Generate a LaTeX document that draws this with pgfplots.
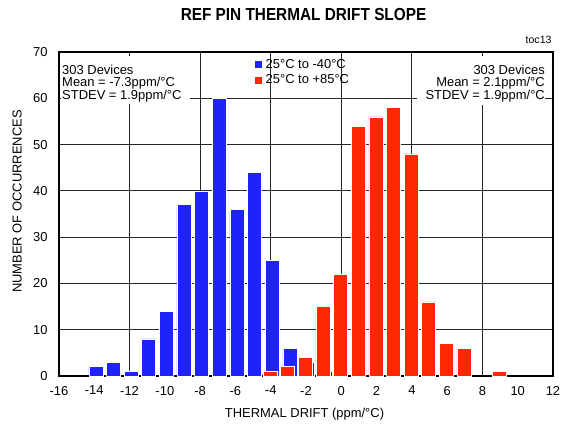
\documentclass[border=0pt]{standalone}
\usepackage{fontspec}
\setmainfont{Liberation Sans}
\newfontfamily\titlefont{Liberation Sans}[FakeStretch=0.88]
\usepackage{pgfplots}
\pgfplotsset{compat=1.18}
\definecolor{barblue}{RGB}{30,35,250}
\definecolor{barred}{RGB}{255,40,0}
\newcommand\fs{\fontsize{13}{13}\selectfont}

\begin{document}
\begin{tikzpicture}
\path[use as bounding box] (-59bp,-50bp) rectangle (502bp,376bp);
\begin{axis}[
  at={(0,0)}, anchor=south west,
  scale only axis, width=494bp, height=324bp,
  xmin=-16, xmax=12, ymin=0, ymax=70,
  xtick={-16,-14,...,12}, ytick={0,10,...,70},
  extra x ticks={-12,-8,-4,0,4,8}, extra x tick labels={},
  extra x tick style={grid=major},
  ymajorgrids,
  major grid style={black!85, line width=0.9bp},
  major tick length=0pt,
  axis line style={line width=1.8bp},
  tick label style={font=\fs},
  /pgf/number format/assume math mode=true,
  xticklabel style={yshift=-6.5bp},
  yticklabel style={xshift=-8bp},
  clip=false,
  legend style={draw=none, fill=none, at={(axis description cs:0.3967,0.9815)},
    anchor=north west, inner sep=0pt, font=\fs, row sep=1.5bp, column sep=2bp,
    nodes={inner sep=1.5bp}},
  legend cell align=left,
  legend image code/.code={\fill[#1, draw=none] (0bp,-3.5bp) rectangle (7bp,3.5bp);},
]
% 25C to -40C
\addplot[ybar, bar width=14bp, bar shift=1.5bp, fill=barblue, draw=white, line width=0.5bp]
  coordinates {(-14,2) (-13,3) (-12,1) (-11,8) (-10,14) (-9,37) (-8,40) (-7,60)
               (-6,36) (-5,44) (-4,25) (-3,6) (-2,3) (-1,1)};
\addlegendentry{25°C to -40°C}
% 25C to +85C
\addplot[ybar, bar width=14bp, bar shift=-0.8bp, fill=barred, draw=white, line width=0.5bp]
  coordinates {(-4,1) (-3,2) (-2,4) (-1,15) (0,22) (1,54) (2,56) (3,58)
               (4,48) (5,16) (6,7) (7,6) (9,1)};
\addlegendentry{25°C to +85°C}

% white boxes behind the stats text
\fill[white] (axis description cs:0.004,0.988) rectangle (axis description cs:0.265,0.840);
\fill[white] (axis description cs:0.725,0.988) rectangle (axis description cs:0.984,0.836);

\node[font=\fs, anchor=base west, inner sep=0pt] at (axis description cs:0.0061,0.9312) {303 Devices};
\node[font=\fs, anchor=base west, inner sep=0pt] at (axis description cs:0.0061,0.8926) {Mean = -7.3ppm/°C};
\node[font=\fs, anchor=base west, inner sep=0pt] at (axis description cs:0.0061,0.8540) {STDEV = 1.9ppm/°C};
\node[font=\fs, anchor=base east, inner sep=0pt] at (axis description cs:0.9838,0.9312) {303 Devices};
\node[font=\fs, anchor=base east, inner sep=0pt] at (axis description cs:0.9838,0.8926) {Mean = 2.1ppm/°C};
\node[font=\fs, anchor=base east, inner sep=0pt] at (axis description cs:0.9838,0.8540) {STDEV = 1.9ppm/°C};

% title, labels
\node[font=\titlefont\bfseries\fontsize{17.5}{17.5}\selectfont, anchor=base, inner sep=0pt]
  at (axis description cs:0.495,1.0966) {REF PIN THERMAL DRIFT SLOPE};
\node[font=\fontsize{10.6}{10.6}\selectfont, anchor=base east, inner sep=0pt]
  at (axis description cs:0.9974,1.0247) {toc13};
\node[font=\fs, anchor=base, inner sep=0pt]
  at (axis description cs:0.497,-0.1296) {THERMAL DRIFT (ppm/°C)};
\node[font=\fs, anchor=base, rotate=90, inner sep=0pt]
  at (axis description cs:-0.0759,0.5386) {NUMBER OF OCCURRENCES};
\end{axis}
\end{tikzpicture}
\end{document}
